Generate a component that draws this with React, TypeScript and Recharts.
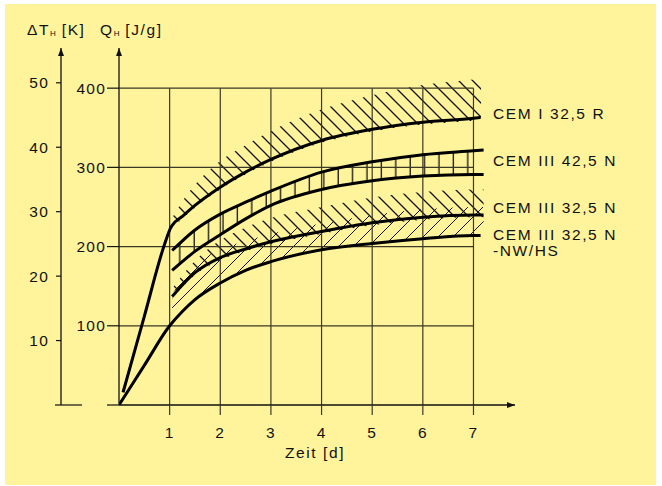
import React from "react"
import { ComposedChart, Line, Area, XAxis, YAxis, ReferenceLine } from "recharts"

const xTicks = [1, 2, 3, 4, 5, 6, 7]
const qTicks = [0, 100, 200, 300, 400]
const tTicks = [0, 10, 20, 30, 40, 50]
const gridQ = [100, 200, 300, 400]

// CEM I 32,5 R
const cem1Days = [0.08, 0.5, 0.9, 1.03, 1.25, 1.5, 2, 2.5, 3, 4, 5, 6, 7, 7.14]
const cem1Q = [16, 112, 203, 225, 238, 252, 275, 294, 310, 334, 348, 357, 362, 363]

// CEM III 42,5 N (upper / lower)
const cem3Days = [1.05, 1.5, 2, 2.5, 3, 4, 5, 6, 7, 7.2]
const cem3HighQ = [195, 221, 241, 256, 270, 294, 307, 316, 321, 322]
const cem3LowQ = [170, 194, 215, 235, 252, 272, 283, 289, 291, 291]

// CEM III 32,5 N
const cem32Q = [137, 167, 186, 197, 206, 219, 230, 237, 240, 240]

// CEM III 32,5 N-NW/HS
const nwDays = [0, 0.5, 1, 1.25, 1.5, 2, 2.5, 3, 4, 5, 6, 7, 7.14]
const nwQ = [0, 50, 100, 118, 133, 154, 170, 181, 196, 204, 210, 214, 214]

// hatched bands
const topBandDays = [1.03, 1.25, 1.5, 2, 2.5, 3, 4, 5, 6, 7, 7.15]
const topBandLow = [222, 235, 249, 272, 291, 307, 331, 345, 354, 359, 360]
const topBandHigh = [234, 257, 278, 308, 328, 346, 373, 391, 404, 411, 412]

const vBandDays = [1.05, 1.5, 2, 2.5, 3, 4, 5, 6, 7]
const vBandLow = [170, 194, 215, 235, 252, 272, 283, 289, 291]
const vBandHigh = [195, 221, 241, 256, 270, 294, 307, 316, 321]

const midBandDays = [1.05, 1.5, 2, 2.5, 3, 4, 5, 6, 7, 7.2]
const backLow = [134, 164, 183, 194, 203, 216, 227, 234, 237, 237]
const backHigh = [147, 182, 208, 224, 236, 250, 262, 269, 272, 272]
const fwdLow = [104, 133, 154, 170, 181, 196, 204, 210, 214, 214]
const fwdHigh = [140, 177, 196, 207, 216, 229, 240, 247, 250, 250]

const toLine = (days: number[], q: number[]) => days.map((d, i) => ({ d, q: q[i] }))
const toBand = (days: number[], lo: number[], hi: number[]) =>
    days.map((d, i) => ({ d, band: [lo[i], hi[i]] }))

const FONT = '"Liberation Sans", Arial, Helvetica, sans-serif'
const INK = "#111"
const GRID = "#3b3826"

const TempTick = (props: any) => {
    const { x, y, payload } = props
    const ax = x + 12
    if (payload.value === 0) {
        return <line x1={ax - 6} x2={ax + 21} y1={y} y2={y} stroke={INK} strokeWidth={1.2} />
    }
    return (
        <g>
            <line x1={ax - 5} x2={ax} y1={y} y2={y} stroke={INK} strokeWidth={1.2} />
            <text x={x} y={y} dy="0.355em" textAnchor="end" fill={INK} fontSize={15.5} letterSpacing={1.2} fontFamily={FONT}>
                {payload.value}
            </text>
        </g>
    )
}

const labelStyle: React.CSSProperties = {
    position: "absolute",
    fontSize: 15.5,
    lineHeight: "18px",
    letterSpacing: 1.6,
    color: INK,
    whiteSpace: "nowrap",
}

export default function App() {
    return (
        <div style={{ position: "relative", width: 662, height: 486, background: "#fff", fontFamily: FONT }}>
            <style>{"body{margin:0}"}</style>
            <div style={{ position: "absolute", left: 5, top: 4, width: 651, height: 481, background: "#FFF49C" }} />
            <div style={{ position: "absolute", left: 0, top: 0 }}>
                <ComposedChart
                    width={662}
                    height={486}
                    margin={{ top: 48, right: 147, bottom: 41, left: 11 }}
                    style={{ fontFamily: FONT }}
                >
                    <defs>
                        <marker id="arrow" viewBox="0 0 8 6" refX="8" refY="3" markerWidth="8" markerHeight="6"
                            markerUnits="userSpaceOnUse" orient="auto-start-reverse">
                            <path d="M0,0 L8,3 L0,6 z" fill={INK} />
                        </marker>
                        <pattern id="hatchBack" patternUnits="userSpaceOnUse" width="14" height="14">
                            <path d="M0,0 L14,14 M-1,13 L1,15 M13,-1 L15,1" stroke={INK} strokeWidth="1.3" />
                        </pattern>
                        <pattern id="hatchFwd" patternUnits="userSpaceOnUse" width="15" height="15">
                            <path d="M0,15 L15,0 M-1,1 L1,-1 M14,16 L16,14" stroke={INK} strokeWidth="1" />
                        </pattern>
                        <pattern id="hatchVert" patternUnits="userSpaceOnUse" width="14.4" height="10">
                            <line x1="7" y1="0" x2="7" y2="10" stroke={INK} strokeWidth="1.3" />
                        </pattern>
                    </defs>

                    <XAxis
                        type="number"
                        dataKey="d"
                        domain={[0, 7.82]}
                        ticks={xTicks}
                        allowDataOverflow
                        height={40}
                        tickSize={10}
                        tickMargin={12}
                        axisLine={{ stroke: INK, strokeWidth: 1.3, markerEnd: "url(#arrow)" }}
                        tickLine={{ stroke: GRID, strokeWidth: 1.2 }}
                        tick={{ fill: INK, fontSize: 15.5, letterSpacing: 1.2 }}
                    />
                    <YAxis
                        yAxisId="q"
                        type="number"
                        domain={[0, 450.7]}
                        ticks={qTicks}
                        allowDataOverflow
                        width={58}
                        tickSize={12}
                        tickMargin={1}
                        tickFormatter={(v: number) => (v === 0 ? "" : String(v))}
                        axisLine={{ stroke: INK, strokeWidth: 1.3, markerStart: "url(#arrow)" }}
                        tickLine={{ stroke: INK, strokeWidth: 1.2 }}
                        tick={{ fill: INK, fontSize: 15.5, letterSpacing: 1.2 }}
                    />
                    <YAxis
                        yAxisId="t"
                        type="number"
                        domain={[0, 55.4]}
                        ticks={tTicks}
                        allowDataOverflow
                        width={50}
                        tickSize={0}
                        tickMargin={12}
                        tickLine={false}
                        axisLine={{ stroke: INK, strokeWidth: 1.3, markerStart: "url(#arrow)" }}
                        tick={<TempTick />}
                    />

                    {xTicks.map((d) => (
                        <ReferenceLine key={"v" + d} yAxisId="q" segment={[{ x: d, y: 0 }, { x: d, y: 400 }]}
                            stroke={GRID} strokeWidth={1.2} />
                    ))}
                    {gridQ.map((q) => (
                        <ReferenceLine key={"h" + q} yAxisId="q" segment={[{ x: 0, y: q }, { x: 7, y: q }]}
                            stroke={GRID} strokeWidth={1.2} />
                    ))}

                    <Area yAxisId="q" type="monotone" data={toBand(topBandDays, topBandLow, topBandHigh)} dataKey="band"
                        stroke="none" fill="url(#hatchBack)" fillOpacity={1} isAnimationActive={false} />
                    <Area yAxisId="q" type="monotone" data={toBand(vBandDays, vBandLow, vBandHigh)} dataKey="band"
                        stroke="none" fill="url(#hatchVert)" fillOpacity={1} isAnimationActive={false} />
                    <Area yAxisId="q" type="monotone" data={toBand(midBandDays, fwdLow, fwdHigh)} dataKey="band"
                        stroke="none" fill="url(#hatchFwd)" fillOpacity={1} isAnimationActive={false} />
                    <Area yAxisId="q" type="monotone" data={toBand(midBandDays, backLow, backHigh)} dataKey="band"
                        stroke="none" fill="url(#hatchBack)" fillOpacity={1} isAnimationActive={false} />

                    <Line yAxisId="q" type="monotone" data={toLine(cem1Days, cem1Q)} dataKey="q"
                        stroke="#000" strokeWidth={3} dot={false} isAnimationActive={false} />
                    <Line yAxisId="q" type="monotone" data={toLine(cem3Days, cem3HighQ)} dataKey="q"
                        stroke="#000" strokeWidth={3} dot={false} isAnimationActive={false} />
                    <Line yAxisId="q" type="monotone" data={toLine(cem3Days, cem3LowQ)} dataKey="q"
                        stroke="#000" strokeWidth={3} dot={false} isAnimationActive={false} />
                    <Line yAxisId="q" type="monotone" data={toLine(cem3Days, cem32Q)} dataKey="q"
                        stroke="#000" strokeWidth={3} dot={false} isAnimationActive={false} />
                    <Line yAxisId="q" type="monotone" data={toLine(nwDays, nwQ)} dataKey="q"
                        stroke="#000" strokeWidth={3} dot={false} isAnimationActive={false} />
                </ComposedChart>
            </div>

            <div style={{ ...labelStyle, left: 27, top: 20.6 }}>
                ΔT<span style={{ fontSize: 8, verticalAlign: -1, letterSpacing: 0 }}>H</span> [K]
            </div>
            <div style={{ ...labelStyle, left: 100, top: 20.6 }}>
                Q<span style={{ fontSize: 8, verticalAlign: -1, letterSpacing: 0 }}>H</span> [J/g]
            </div>
            <div style={{ ...labelStyle, left: 265, width: 100, textAlign: "center", top: 443.6 }}>Zeit [d]</div>

            <div style={{ ...labelStyle, left: 493, top: 104.9 }}>CEM I 32,5 R</div>
            <div style={{ ...labelStyle, left: 493, top: 151.6 }}>CEM III 42,5 N</div>
            <div style={{ ...labelStyle, left: 493, top: 198.9 }}>CEM III 32,5 N</div>
            <div style={{ ...labelStyle, left: 493, top: 225.6 }}>CEM III 32,5 N</div>
            <div style={{ ...labelStyle, left: 493, top: 242.3 }}>-NW/HS</div>
        </div>
    )
}
